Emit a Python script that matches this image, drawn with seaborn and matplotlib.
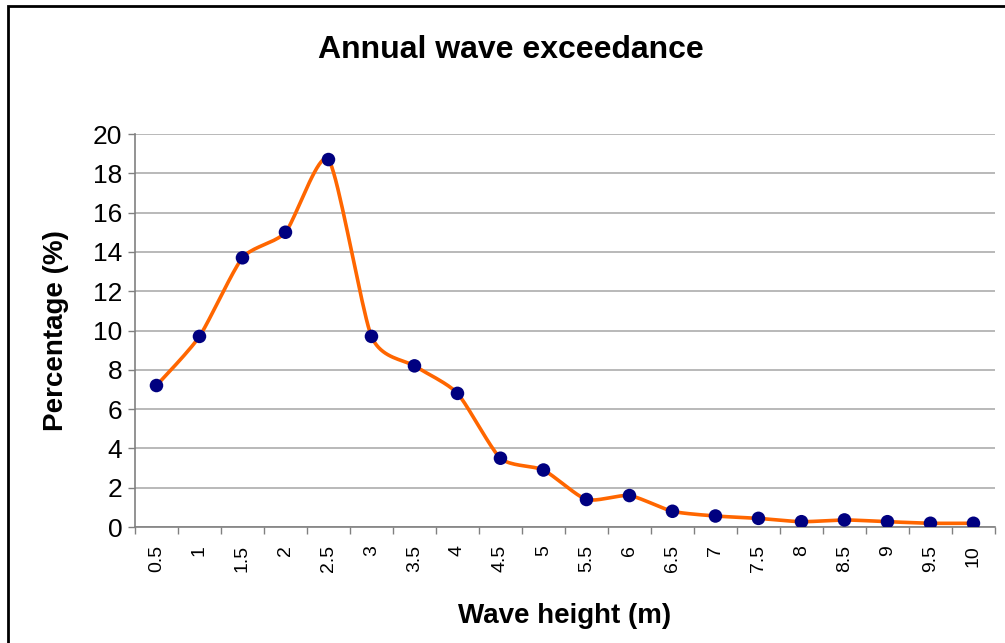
import numpy as np
import pandas as pd
import matplotlib
matplotlib.use('Agg')
import matplotlib.pyplot as plt
from matplotlib.patches import Rectangle
import seaborn as sns

# Dados do grafico
wave_height = ['0.5', '1', '1.5', '2', '2.5', '3', '3.5', '4', '4.5', '5',
               '5.5', '6', '6.5', '7', '7.5', '8', '8.5', '9', '9.5', '10']
percentage = [7.2, 9.7, 13.7, 15.0, 18.7, 9.7, 8.2, 6.8, 3.5, 2.9,
              1.4, 1.6, 0.8, 0.56, 0.44, 0.27, 0.36, 0.27, 0.19, 0.19]

sns.set_theme(style='white')
plt.rcParams['font.family'] = ['Liberation Sans', 'DejaVu Sans']
plt.rcParams['text.color'] = 'black'
plt.rcParams['axes.labelcolor'] = 'black'
plt.rcParams['xtick.color'] = 'black'
plt.rcParams['ytick.color'] = 'black'

df = pd.DataFrame({'pos': np.arange(len(wave_height)), 'pct': percentage})


# Suavizacao tipo Excel (Bezier com tensao baixa) so para desenhar a linha
def suaviza(x, y, k=0.11, n=20):
    px = np.concatenate([[x[0]], x, [x[-1]]])
    py = np.concatenate([[y[0]], y, [y[-1]]])
    xs, ys = [], []
    t = np.linspace(0, 1, n, endpoint=False)
    for i in range(1, len(px) - 2):
        for p, out in ((px, xs), (py, ys)):
            p0, p1, p2, p3 = p[i - 1], p[i], p[i + 1], p[i + 2]
            c1 = p1 + (p2 - p0) * k
            c2 = p2 - (p3 - p1) * k
            out.extend((1 - t) ** 3 * p1 + 3 * (1 - t) ** 2 * t * c1
                       + 3 * (1 - t) * t ** 2 * c2 + t ** 3 * p2)
    xs.append(x[-1])
    ys.append(y[-1])
    return np.array(xs), np.array(ys)


sx, sy = suaviza(df['pos'].values.astype(float), df['pct'].values.astype(float))
smooth = pd.DataFrame({'x': sx, 'y': sy})

fig = plt.figure(figsize=(10.05, 6.43), dpi=100)
ax = fig.add_axes([0.1343, 0.1804, 0.8557, 0.6112])

sns.lineplot(data=smooth, x='x', y='y', ax=ax, color='#FF6600', linewidth=2.6,
             sort=False, estimator=None, zorder=3)
sns.scatterplot(data=df, x='pos', y='pct', ax=ax, color='#000080', s=95,
                edgecolor='none', zorder=4)

ax.set_xlim(-0.5, len(wave_height) - 0.5)
ax.set_ylim(0, 20)
ax.set_yticks(np.arange(0, 21, 2))
ax.yaxis.grid(True, color='#a6a6a6', linewidth=1.1)
ax.xaxis.grid(False)

# ticks entre as categorias, rotulos no centro
ax.set_xticks(np.arange(-0.5, len(wave_height), 1.0))
ax.set_xticklabels([])
ax.set_xticks(np.arange(len(wave_height)), minor=True)
ax.set_xticklabels(wave_height, minor=True, rotation=90, fontsize=14)
ax.tick_params(axis='x', which='major', direction='out', length=5, width=1,
               color='#808080', bottom=True)
ax.tick_params(axis='x', which='minor', length=0, pad=13)
ax.tick_params(axis='y', direction='out', length=5, width=1, color='#808080',
               left=True, labelsize=19, pad=4)

for s in ['top', 'right']:
    ax.spines[s].set_visible(False)
for s in ['left', 'bottom']:
    ax.spines[s].set_color('#808080')
    ax.spines[s].set_linewidth(1.2)

ax.set_xlabel('Wave height (m)', fontsize=20, fontweight='bold', labelpad=22)
ax.set_ylabel('Percentage (%)', fontsize=20, fontweight='bold', labelpad=17)
fig.text(0.508, 0.923, 'Annual wave exceedance', ha='center', va='center',
         fontsize=23, fontweight='bold')

# borda do grafico
fig.patches.append(Rectangle((8 / 1005, -0.05), 1.1, 1 - 6 / 643 + 0.05,
                             transform=fig.transFigure, fill=False,
                             edgecolor='black', linewidth=2))

plt.savefig('out.png', dpi=100)
